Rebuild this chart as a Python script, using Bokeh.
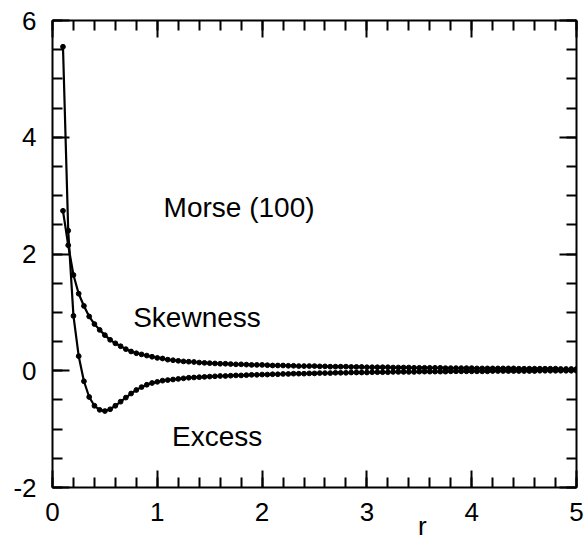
from bokeh.plotting import figure
from bokeh.models import (SingleIntervalTicker, FixedTicker, LinearAxis, Range1d,
                          Label, CustomJSTickFormatter)
from bokeh.embed import file_html
from bokeh.resources import INLINE

# ---- data ----
r = [0.10, 0.15, 0.20, 0.25, 0.30, 0.35, 0.40, 0.45, 0.50, 0.55,
     0.60, 0.65, 0.70, 0.75, 0.80, 0.85, 0.90, 0.95, 1.00, 1.05,
     1.10, 1.15, 1.20, 1.25, 1.30, 1.35, 1.40, 1.45, 1.50, 1.55,
     1.60, 1.65, 1.70, 1.75, 1.80, 1.85, 1.90, 1.95, 2.00, 2.05,
     2.10, 2.15, 2.20, 2.25, 2.30, 2.35, 2.40, 2.45, 2.50, 2.55,
     2.60, 2.65, 2.70, 2.75, 2.80, 2.85, 2.90, 2.95, 3.00, 3.05,
     3.10, 3.15, 3.20, 3.25, 3.30, 3.35, 3.40, 3.45, 3.50, 3.55,
     3.60, 3.65, 3.70, 3.75, 3.80, 3.85, 3.90, 3.95, 4.00, 4.05,
     4.10, 4.15, 4.20, 4.25, 4.30, 4.35, 4.40, 4.45, 4.50, 4.55,
     4.60, 4.65, 4.70, 4.75, 4.80, 4.85, 4.90, 4.95, 5.00]

skewness = [2.74, 2.15, 1.64, 1.32, 1.11, 0.93, 0.80, 0.70, 0.61, 0.53,
            0.47, 0.42, 0.37, 0.33, 0.30, 0.28, 0.26, 0.24, 0.22, 0.21,
            0.19, 0.18, 0.17, 0.16, 0.155, 0.15, 0.14, 0.135, 0.13, 0.125,
            0.12, 0.12, 0.115, 0.11, 0.11, 0.105, 0.10, 0.10, 0.10, 0.095,
            0.09, 0.09, 0.09, 0.085, 0.085, 0.08, 0.08, 0.08, 0.08, 0.075,
            0.075, 0.07, 0.07, 0.07, 0.07, 0.065, 0.065, 0.065, 0.06, 0.06,
            0.06, 0.06, 0.06, 0.055, 0.055, 0.055, 0.055, 0.05, 0.05, 0.05,
            0.05, 0.05, 0.05, 0.045, 0.045, 0.045, 0.045, 0.045, 0.045, 0.04,
            0.04, 0.04, 0.04, 0.04, 0.04, 0.04, 0.04, 0.035, 0.035, 0.035,
            0.035, 0.035, 0.035, 0.035, 0.035, 0.03, 0.03, 0.03, 0.03]

excess = [5.55, 2.40, 0.94, 0.25, -0.18, -0.45, -0.60, -0.67, -0.69, -0.66,
          -0.60, -0.53, -0.46, -0.39, -0.33, -0.28, -0.24, -0.21, -0.19, -0.17,
          -0.16, -0.15, -0.14, -0.13, -0.12, -0.115, -0.11, -0.105, -0.10, -0.095,
          -0.09, -0.09, -0.085, -0.08, -0.08, -0.075, -0.07, -0.07, -0.065, -0.065,
          -0.06, -0.06, -0.055, -0.055, -0.05, -0.05, -0.05, -0.045, -0.045, -0.04,
          -0.04, -0.04, -0.035, -0.035, -0.035, -0.03, -0.03, -0.03, -0.03, -0.025,
          -0.025, -0.025, -0.025, -0.02, -0.02, -0.02, -0.02, -0.02, -0.015, -0.015,
          -0.015, -0.015, -0.015, -0.015, -0.01, -0.01, -0.01, -0.01, -0.01, -0.01,
          -0.01, -0.01, -0.005, -0.005, -0.005, -0.005, -0.005, -0.005, -0.005, -0.005,
          -0.005, 0.0, 0.0, 0.0, 0.0, 0.0, 0.0, 0.0, 0.0]

x_tick_labels = {0: "0", 1: "1", 2: "2", 3: "3", 4: "4", 5: "5"}
y_tick_labels = {-2: "-2", 0: "0", 2: "2", 4: "4", 6: "6"}
x_title = "r"
x_title_at = 3.53

FONT = "Liberation Sans"

p = figure(frame_width=524, frame_height=467, output_backend="svg",
           toolbar_location=None,
           x_range=Range1d(0, 5), y_range=Range1d(-2, 6),
           min_border_left=52, min_border_right=9,
           min_border_top=20, min_border_bottom=53)
p.xgrid.visible = False
p.ygrid.visible = False
p.outline_line_color = None
p.background_fill_color = "white"
p.border_fill_color = "white"


def style_axis(ax, show_labels):
    ax.axis_line_width = 2
    ax.axis_line_color = "black"
    ax.major_tick_in = 17
    ax.major_tick_out = 0
    ax.minor_tick_in = 10
    ax.minor_tick_out = 0
    ax.major_tick_line_width = 2
    ax.minor_tick_line_width = 2
    ax.major_tick_line_color = "black"
    ax.minor_tick_line_color = "black"
    if show_labels:
        ax.major_label_text_font = FONT
        ax.major_label_text_font_size = "26px"
        ax.major_label_text_color = "black"
    else:
        ax.formatter = CustomJSTickFormatter(code="return ''")
        ax.major_label_standoff = 0


xt = SingleIntervalTicker(interval=1, num_minor_ticks=5)
yt = SingleIntervalTicker(interval=2, num_minor_ticks=4)

p.xaxis.ticker = xt
p.yaxis.ticker = yt
p.xaxis.major_label_overrides = x_tick_labels
p.yaxis.major_label_overrides = y_tick_labels
for ax in p.xaxis:
    style_axis(ax, True)
    ax.major_label_standoff = 15
for ax in p.yaxis:
    style_axis(ax, True)
    ax.major_label_standoff = 16

top = LinearAxis(ticker=SingleIntervalTicker(interval=1, num_minor_ticks=5))
style_axis(top, False)
p.add_layout(top, "above")
right = LinearAxis(ticker=SingleIntervalTicker(interval=2, num_minor_ticks=4))
style_axis(right, False)
p.add_layout(right, "right")

# axis title "r", placed off-centre like the reference, as a second bottom axis
title_axis = LinearAxis(ticker=FixedTicker(ticks=[x_title_at]),
                        major_label_overrides={x_title_at: x_title})
title_axis.axis_line_color = None
title_axis.major_tick_line_color = None
title_axis.minor_tick_line_color = None
title_axis.major_tick_in = 0
title_axis.major_tick_out = 0
title_axis.major_label_standoff = -13
title_axis.major_label_text_font = FONT
title_axis.major_label_text_font_size = "26px"
title_axis.major_label_text_color = "black"
p.add_layout(title_axis, "below")

p.line(r, skewness, line_width=2.2, color="black")
p.scatter(r, skewness, size=4.8, color="black")
p.line(r, excess, line_width=2.2, color="black")
p.scatter(r, excess, size=4.8, color="black")

for txt, x, y in [("Morse (100)", 1.06, 2.79), ("Skewness", 0.77, 0.91),
                  ("Excess", 1.14, -1.13)]:
    p.add_layout(Label(x=x, y=y, text=txt, text_font=FONT,
                       text_font_size="28px", text_color="black",
                       text_baseline="alphabetic"))

open("out.html", "w").write(file_html(p, INLINE))
